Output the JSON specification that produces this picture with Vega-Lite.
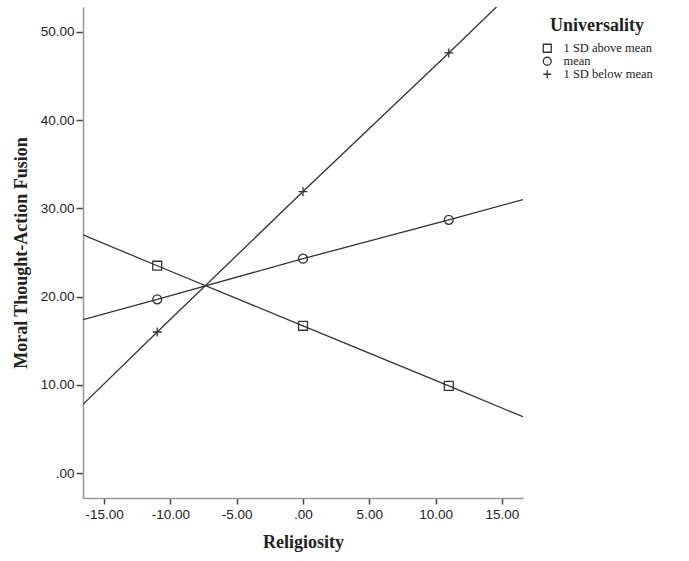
{
  "$schema": "https://vega.github.io/schema/vega-lite/v6.json",
  "width": 440,
  "height": 491,
  "autosize": {"type": "none"},
  "padding": {"left": 83, "top": 7, "right": 166, "bottom": 63},
  "background": "white",
  "config": {
    "view": {"stroke": null},
    "axis": {"grid": false}
  },
  "datasets": {
    "lines": [
      {"religiosity": -16.6, "mtaf": 27.0, "universality": "1 SD above mean"},
      {"religiosity": -11, "mtaf": 23.5, "universality": "1 SD above mean"},
      {"religiosity": 0, "mtaf": 16.7, "universality": "1 SD above mean"},
      {"religiosity": 11, "mtaf": 9.9, "universality": "1 SD above mean"},
      {"religiosity": 16.6, "mtaf": 6.4, "universality": "1 SD above mean"},
      {"religiosity": -16.6, "mtaf": 17.4, "universality": "mean"},
      {"religiosity": -11, "mtaf": 19.7, "universality": "mean"},
      {"religiosity": 0, "mtaf": 24.3, "universality": "mean"},
      {"religiosity": 11, "mtaf": 28.7, "universality": "mean"},
      {"religiosity": 16.6, "mtaf": 31.0, "universality": "mean"},
      {"religiosity": -16.6, "mtaf": 7.8, "universality": "1 SD below mean"},
      {"religiosity": -11, "mtaf": 16.0, "universality": "1 SD below mean"},
      {"religiosity": 0, "mtaf": 31.9, "universality": "1 SD below mean"},
      {"religiosity": 11, "mtaf": 47.6, "universality": "1 SD below mean"},
      {"religiosity": 16.6, "mtaf": 55.7, "universality": "1 SD below mean"}
    ],
    "markers": [
      {"religiosity": -11, "mtaf": 23.5, "universality": "1 SD above mean"},
      {"religiosity": 0, "mtaf": 16.7, "universality": "1 SD above mean"},
      {"religiosity": 11, "mtaf": 9.9, "universality": "1 SD above mean"},
      {"religiosity": -11, "mtaf": 19.7, "universality": "mean"},
      {"religiosity": 0, "mtaf": 24.3, "universality": "mean"},
      {"religiosity": 11, "mtaf": 28.7, "universality": "mean"},
      {"religiosity": -11, "mtaf": 16.0, "universality": "1 SD below mean"},
      {"religiosity": 0, "mtaf": 31.9, "universality": "1 SD below mean"},
      {"religiosity": 11, "mtaf": 47.6, "universality": "1 SD below mean"}
    ]
  },
  "encoding": {
    "x": {
      "field": "religiosity",
      "type": "quantitative",
      "scale": {"domain": [-16.6, 16.6], "nice": false, "zero": false},
      "axis": {
        "title": "Religiosity",
        "titleFont": "Liberation Serif",
        "titleFontSize": 18,
        "titleFontWeight": "bold",
        "titleColor": "#222",
        "titlePadding": 13,
        "values": [-15, -10, -5, 0, 5, 10, 15],
        "labelExpr": "datum.value == 0 ? '.00' : replace(format(datum.value, '.2f'), '\u2212', '-')",
        "labelFont": "Liberation Sans",
        "labelFontSize": 13.5,
        "labelColor": "#222",
        "labelPadding": 3,
        "domainColor": "#999",
        "domainWidth": 1.5,
        "tickColor": "#444",
        "tickSize": 6,
        "tickWidth": 1.5
      }
    },
    "y": {
      "field": "mtaf",
      "type": "quantitative",
      "scale": {"domain": [-2.8, 52.8], "nice": false, "zero": false},
      "axis": {
        "title": "Moral Thought-Action Fusion",
        "titleFont": "Liberation Serif",
        "titleFontSize": 18,
        "titleFontWeight": "bold",
        "titleColor": "#222",
        "titlePadding": 10,
        "values": [0, 10, 20, 30, 40, 50],
        "labelExpr": "datum.value == 0 ? '.00' : format(datum.value, '.2f')",
        "labelFont": "Liberation Sans",
        "labelFontSize": 13.5,
        "labelColor": "#222",
        "labelPadding": 2,
        "domainColor": "#999",
        "domainWidth": 1.5,
        "tickColor": "#444",
        "tickSize": 7,
        "tickWidth": 1.5
      }
    }
  },
  "layer": [
    {
      "data": {"name": "lines"},
      "mark": {"type": "line", "clip": true, "color": "#333", "strokeWidth": 1.3},
      "encoding": {
        "detail": {"field": "universality", "type": "nominal"}
      }
    },
    {
      "data": {"name": "markers"},
      "mark": {"type": "point", "filled": false, "color": "#333", "strokeWidth": 1.3, "size": 80, "opacity": 1},
      "encoding": {
        "shape": {
          "field": "universality",
          "type": "nominal",
          "scale": {
            "domain": ["1 SD above mean", "mean", "1 SD below mean"],
            "range": ["square", "circle", "M-1,0L1,0M0,-1L0,1"]
          },
          "legend": {
            "title": "Universality",
            "orient": "none",
            "legendX": 458,
            "legendY": 10,
            "titleFont": "Liberation Serif",
            "titleFontSize": 18,
            "titleFontWeight": "bold",
            "titleColor": "#222",
            "titleAnchor": "middle",
            "titlePadding": 7,
            "labelFont": "Liberation Serif",
            "labelFontSize": 12.5,
            "labelColor": "#222",
            "symbolSize": 64,
            "symbolStrokeColor": "#333",
            "symbolStrokeWidth": 1.3,
            "symbolFillColor": "transparent",
            "rowPadding": -1.5,
            "labelOffset": 10
          }
        }
      }
    }
  ]
}
